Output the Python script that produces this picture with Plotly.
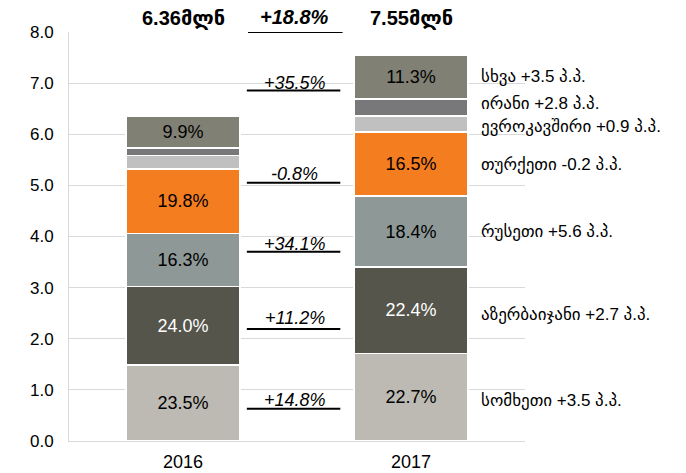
import plotly.graph_objects as go

years = ["2016", "2017"]
segments = ["სომხეთი", "აზერბაიჯანი", "რუსეთი", "თურქეთი", "ევროკავშირი", "ირანი", "სხვა"]
# values in billions
values_2016 = [1.49, 1.53, 1.04, 1.26, 0.26, 0.15, 0.63]
values_2017 = [1.71, 1.69, 1.39, 1.25, 0.32, 0.33, 0.86]
labels_2016 = ["23.5%", "24.0%", "16.3%", "19.8%", "", "", "9.9%"]
labels_2017 = ["22.7%", "22.4%", "18.4%", "16.5%", "", "", "11.3%"]
colors = ["#BCBAB2", "#55554B", "#8E9997", "#F47D20", "#C0C0C0", "#78787A", "#808074"]
text_colors = ["black", "white", "black", "black", "black", "black", "black"]

totals_text = ["6.36მლნ", "7.55მლნ"]
total_growth = "+18.8%"
growth_labels = ["+14.8%", "+11.2%", "+34.1%", "-0.8%", "+35.5%"]
growth_label_y = [0.80, 2.41, 3.855, 5.225, 7.0]
growth_line_y = [0.63, 2.19, 3.70, 5.05, 6.855]
right_labels = ["სომხეთი +3.5 პ.პ.", "აზერბაიჯანი +2.7 პ.პ.", "რუსეთი +5.6 პ.პ.",
                "თურქეთი -0.2 პ.პ.", "ევროკავშირი +0.9 პ.პ.", "ირანი +2.8 პ.პ.", "სხვა +3.5 პ.პ."]
right_label_y = [0.80, 2.466, 4.09, 5.40, 6.145, 6.595, 7.12]

FONT = "Arial, Liberation Sans, DejaVu Sans, sans-serif"

fig = go.Figure()
for i, seg in enumerate(segments):
    fig.add_trace(go.Bar(
        x=years, y=[values_2016[i], values_2017[i]], name=seg,
        marker=dict(color=colors[i], line=dict(color="white", width=1.5)),
        text=[labels_2016[i], labels_2017[i]], textposition="inside",
        insidetextanchor="middle", textangle=0,
        textfont=dict(color=text_colors[i], size=18, family=FONT),
        hoverinfo="skip",
    ))

annotations = []
for j, t in enumerate(totals_text):
    annotations.append(dict(x=j, y=1.034, xref="x", yref="paper", yanchor="middle",
                            text=f"<b>{t}</b>", showarrow=False,
                            font=dict(size=20, color="black", family=FONT)))
annotations.append(dict(x=0.49, y=1.036, xref="x", yref="paper", yanchor="middle",
                        text=f"<b><i>{total_growth}</i></b>", showarrow=False,
                        font=dict(size=20, color="black", family=FONT)))
for lab, yy in zip(growth_labels, growth_label_y):
    annotations.append(dict(x=0.49, y=yy, xref="x", yref="y", text=f"<i>{lab}</i>",
                            showarrow=False, font=dict(size=18, color="black", family=FONT)))
for lab, yy in zip(right_labels, right_label_y):
    annotations.append(dict(x=1.30, y=yy, xref="x", yref="y", text=lab, xanchor="left",
                            showarrow=False, font=dict(size=17, color="black", family=FONT)))

shapes = [dict(type="line", xref="x", yref="y", x0=0.285, x1=0.70, y0=8.0, y1=8.0,
               line=dict(color="black", width=2))]
for yy in growth_line_y:
    shapes.append(dict(type="line", xref="x", yref="y", x0=0.28, x1=0.69, y0=yy, y1=yy,
                       line=dict(color="black", width=2)))

fig.update_layout(
    barmode="stack",
    bargap=0.5,
    width=686, height=473,
    margin=dict(l=69, r=161, t=32, b=32, autoexpand=False),
    plot_bgcolor="white", paper_bgcolor="white",
    showlegend=False,
    font=dict(family=FONT, size=17, color="black"),
    annotations=annotations,
    shapes=shapes,
    xaxis=dict(type="category", range=[-0.5, 1.5], showline=True, linecolor="#D9D9D9", linewidth=1,
               ticks="", tickfont=dict(size=18), ticklabelstandoff=4),
    yaxis=dict(range=[0, 8], dtick=1, tickformat=".1f", showgrid=True, gridcolor="#D9D9D9",
               gridwidth=1, showline=True, linecolor="#D9D9D9", zeroline=False,
               ticks="", tickfont=dict(size=17), ticklabelstandoff=11),
)

fig.write_html("out.html", config={"displayModeBar": False},
               post_script="document.body.style.margin='0';document.body.style.overflow='hidden';")
